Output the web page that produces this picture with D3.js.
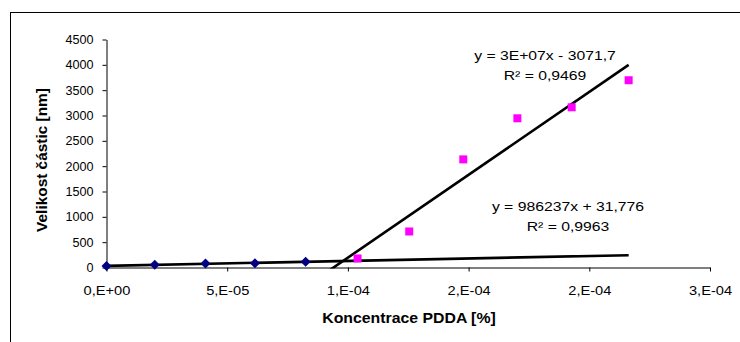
<!DOCTYPE html>
<html>
<head>
<meta charset="utf-8">
<script src="https://cdn.jsdelivr.net/npm/d3@7"></script>
<style>
	body { margin: 0; background: #fff; }
	svg { display: block; font-family: "Liberation Sans", Arial, sans-serif; }
</style>
</head>
<body>
<svg id="chart" width="740" height="342"></svg>
<script>
/* global d3 */

// series 1 (navy diamonds)
const xLow = [0, 2.0e-5, 4.1e-5, 6.15e-5, 8.25e-5];
const yLow = [28, 55, 80, 82, 115];
// series 2 (magenta squares)
const xHigh = [1.04e-4, 1.254e-4, 1.478e-4, 1.702e-4, 1.927e-4, 2.163e-4];
const yHigh = [178, 711, 2134, 2945, 3162, 3696];

const xTicks = [0, 5e-5, 1e-4, 1.5e-4, 2e-4, 2.5e-4];
const xTickLabels = ['0,E+00', '5,E-05', '1,E-04', '2,E-04', '2,E-04', '3,E-04'];
const yTicks = [0, 500, 1000, 1500, 2000, 2500, 3000, 3500, 4000, 4500];

const eqHigh = ['y = 3E+07x - 3071,7', 'R² = 0,9469'];
const eqLow = ['y = 986237x + 31,776', 'R² = 0,9963'];

const svg = d3.select('#chart');

// text in the original is drawn wider than the font, stretch it
const stretch = (sel, k) => sel.each(function () {
	const w = this.getComputedTextLength();
	this.setAttribute('textLength', w * k);
	this.setAttribute('lengthAdjust', 'spacingAndGlyphs');
});

const fit = (xs, ys) => {
	const mx = d3.mean(xs), my = d3.mean(ys);
	const sxy = d3.sum(xs, (x, i) => (x - mx) * (ys[i] - my));
	const sxx = d3.sum(xs, x => (x - mx) ** 2);
	const slope = sxy / sxx;
	return { slope, icept: my - slope * mx };
};

// outer chart frame (runs off the picture right and bottom)
svg.append('rect')
	.attr('x', 10.5).attr('y', 12.5)
	.attr('width', 800).attr('height', 400)
	.attr('fill', 'none').attr('stroke', '#000');

const x = d3.scaleLinear().domain([0, 2.5e-4]).range([106.5, 710]);
const y = d3.scaleLinear().domain([0, 4500]).range([267.5, 39.5]);

const yAxis = svg.append('g')
	.attr('transform', `translate(${x(0)},0)`)
	.call(d3.axisLeft(y).tickValues(yTicks).tickFormat(d => String(d))
		.tickSize(4).tickPadding(9).tickSizeOuter(0));
yAxis.selectAll('text').attr('font-size', 12).attr('fill', '#000').attr('font-family', null);
yAxis.select('.domain').attr('stroke', '#000');
stretch(yAxis.selectAll('text'), 1.05);

const xAxis = svg.append('g')
	.attr('transform', `translate(0,${y(0)})`)
	.call(d3.axisBottom(x).tickValues(xTicks).tickFormat((d, i) => xTickLabels[i])
		.tickSize(4).tickPadding(15).tickSizeOuter(0));
xAxis.selectAll('text').attr('font-size', 12).attr('fill', '#000').attr('font-family', null);
xAxis.select('.domain').attr('stroke', '#000');
stretch(xAxis.selectAll('text'), 1.22);

// trend lines, clipped to the plot area
svg.append('clipPath').attr('id', 'plot')
	.append('rect')
	.attr('x', x(0)).attr('y', y(4500))
	.attr('width', x(2.5e-4) - x(0)).attr('height', y(0) - y(4500) + 1);

const xMax = d3.max(xHigh);
const line = d3.line().x(d => x(d[0])).y(d => y(d[1]));
for (const [xs, ys] of [[xLow, yLow], [xHigh, yHigh]]) {
	const f = fit(xs, ys);
	const pts = [0, xMax].map(v => [v, f.slope * v + f.icept]);
	svg.append('path')
		.attr('clip-path', 'url(#plot)')
		.attr('d', line(pts))
		.attr('fill', 'none')
		.attr('stroke', '#000')
		.attr('stroke-width', 2.6);
}

svg.append('g').selectAll('path')
	.data(xLow.map((v, i) => [v, yLow[i]]))
	.join('path')
	.attr('transform', d => `translate(${x(d[0])},${y(d[1])}) rotate(45)`)
	.attr('d', d3.symbol(d3.symbolSquare, 50))
	.attr('fill', '#000080');

svg.append('g').selectAll('path')
	.data(xHigh.map((v, i) => [v, yHigh[i]]))
	.join('path')
	.attr('transform', d => `translate(${x(d[0])},${y(d[1])})`)
	.attr('d', d3.symbol(d3.symbolSquare, 64))
	.attr('fill', '#ff00ff');

// equation labels
const label = (lines, cx, top) => {
	const t = svg.append('g').selectAll('text')
		.data(lines)
		.join('text')
		.attr('x', cx)
		.attr('y', (d, i) => top + i * 20)
		.attr('text-anchor', 'middle')
		.attr('font-size', 13)
		.text(d => d);
	stretch(t, 1.21);
};
label(eqHigh, 545, 60);
label(eqLow, 568, 211);

// axis titles
const xTitle = svg.append('text')
	.attr('x', 409).attr('y', 323)
	.attr('text-anchor', 'middle')
	.attr('font-size', 14).attr('font-weight', 'bold')
	.text('Koncentrace PDDA [%]');
stretch(xTitle, 1.13);

const yTitle = svg.append('text')
	.attr('transform', 'translate(47,160) rotate(-90)')
	.attr('text-anchor', 'middle')
	.attr('font-size', 14).attr('font-weight', 'bold')
	.text('Velikost částic [nm]');
stretch(yTitle, 1.1);
</script>
</body>
</html>
